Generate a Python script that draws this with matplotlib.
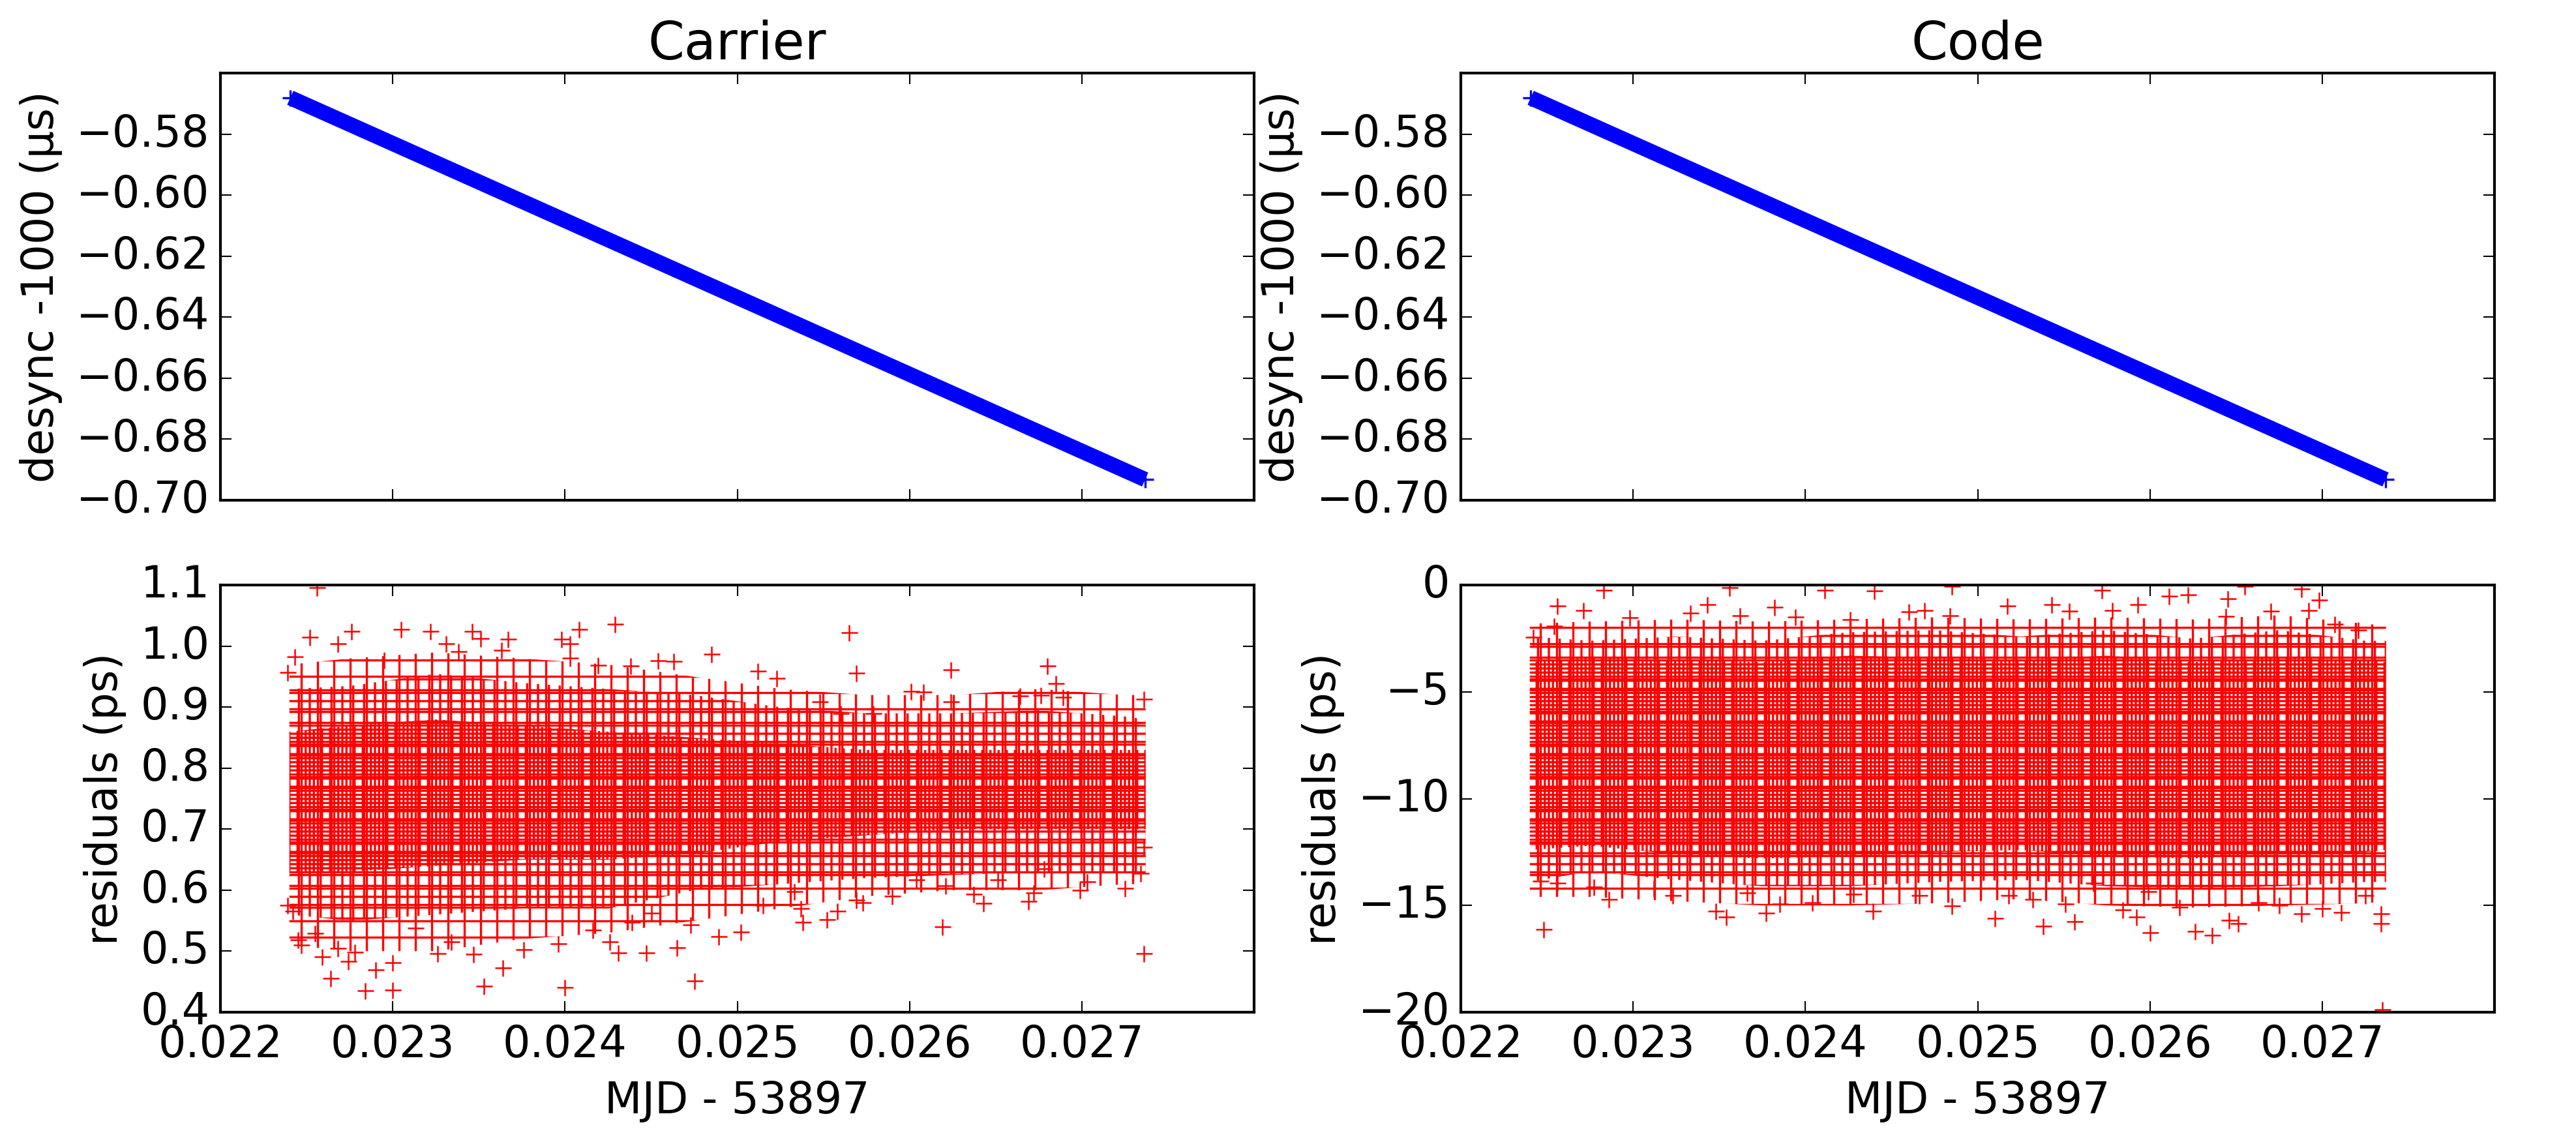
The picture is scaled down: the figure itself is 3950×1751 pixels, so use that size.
"""Carrier / Code desync and residuals, 2x2 panel figure (classic mpl look)."""
import matplotlib
matplotlib.use("Agg")
import matplotlib.pyplot as plt

plt.style.use("classic")
plt.rcParams["font.size"] = 16
plt.rcParams["hatch.linewidth"] = 0.8
plt.rcParams["hatch.color"] = "red"

# desync -1000 (us): start / end of the straight blue track (same in both panels)
desync_t = [0.022405, 0.027367]
desync_us = [-0.5681, -0.6933]

# residual clouds: envelopes read per time position
# (sparse fringe, main body, densest core)
env_t = [0.02240, 0.02275, 0.02325, 0.02375, 0.02425, 0.02475,
         0.02525, 0.02575, 0.02625, 0.02675, 0.02725, 0.02737]
car_sparse_hi = [0.97, 0.98, 0.99, 0.98, 0.97, 0.95, 0.93, 0.92, 0.92, 0.93, 0.92, 0.92]
car_sparse_lo = [0.51, 0.50, 0.50, 0.52, 0.53, 0.55, 0.57, 0.59, 0.60, 0.60, 0.61, 0.61]
car_hi = [0.93, 0.935, 0.955, 0.94, 0.93, 0.92, 0.90, 0.89, 0.89, 0.895, 0.885, 0.88]
car_lo = [0.56, 0.55, 0.56, 0.57, 0.57, 0.60, 0.61, 0.62, 0.625, 0.63, 0.63, 0.63]
car_core_hi = [0.86, 0.87, 0.88, 0.87, 0.86, 0.85, 0.84, 0.83, 0.83, 0.83, 0.83, 0.83]
car_core_lo = [0.63, 0.63, 0.64, 0.65, 0.65, 0.66, 0.68, 0.69, 0.70, 0.70, 0.70, 0.70]
code_sparse_hi = [-1.8, -1.7, -1.6, -1.7, -1.6, -1.5, -1.6, -1.5, -1.6, -1.4, -1.8, -1.9]
code_sparse_lo = [-14.6, -14.6, -14.8, -15.0, -15.0, -14.9, -14.7, -15.0, -15.1, -15.0, -14.9, -14.8]
code_hi = [-2.4, -2.6, -2.4, -2.6, -2.2, -2.1, -2.4, -2.1, -2.5, -2.1, -2.6, -2.6]
code_lo = [-13.9, -13.4, -13.8, -14.1, -14.1, -13.9, -13.8, -14.1, -14.2, -14.1, -13.9, -13.9]
code_core_hi = [-3.6, -3.4, -3.5, -3.6, -3.3, -3.4, -3.5, -3.3, -3.6, -3.4, -3.5, -3.6]
code_core_lo = [-12.4, -12.2, -12.6, -12.8, -12.7, -12.5, -12.4, -12.7, -12.8, -12.6, -12.5, -12.4]

# scattered residuals outside the dense body (carrier, ps)
car_out_t = [0.02256, 0.02252, 0.02276, 0.02268, 0.02305, 0.02322, 0.02346, 0.02351,
             0.02367, 0.02331, 0.02363, 0.02398, 0.02403, 0.02408, 0.02429, 0.02403,
             0.02565, 0.02569, 0.02624, 0.02680, 0.02485, 0.02454, 0.02463, 0.02512,
             0.02523, 0.02295, 0.02243, 0.02239, 0.02338, 0.02419, 0.02438, 0.02601,
             0.02608, 0.02664, 0.02676, 0.02689, 0.02736, 0.02685, 0.02624, 0.02548,
             0.02579, 0.02560,
             0.02736, 0.02619, 0.02475, 0.02400, 0.02353, 0.02300, 0.02284, 0.02264,
             0.02290, 0.02300, 0.02364, 0.02376, 0.02396, 0.02347, 0.02326, 0.02334,
             0.02431, 0.02447, 0.02465, 0.02489, 0.02502, 0.02473, 0.02416, 0.02426,
             0.02538, 0.02552, 0.02558, 0.02573, 0.02590, 0.02637, 0.02643, 0.02669,
             0.02672, 0.02699, 0.02725, 0.02651, 0.02537, 0.02245, 0.02247, 0.02259,
             0.02268, 0.02278, 0.02274, 0.02313, 0.02239, 0.02242, 0.02255, 0.02439,
             0.02450, 0.02533, 0.02515, 0.02569, 0.02604, 0.02621, 0.02703, 0.02678,
             0.02734, 0.02736]
car_out_ps = [1.096, 1.015, 1.025, 1.004, 1.028, 1.024, 1.025, 1.013,
              1.012, 1.004, 0.993, 1.012, 1.004, 1.028, 1.036, 0.981,
              1.022, 0.956, 0.961, 0.968, 0.987, 0.976, 0.975, 0.959,
              0.948, 0.978, 0.983, 0.957, 0.991, 0.969, 0.968, 0.926,
              0.925, 0.919, 0.920, 0.917, 0.913, 0.939, 0.909, 0.909,
              0.890, 0.890,
              0.496, 0.540, 0.451, 0.441, 0.443, 0.436, 0.435, 0.455,
              0.469, 0.481, 0.473, 0.503, 0.512, 0.495, 0.496, 0.515,
              0.497, 0.497, 0.506, 0.524, 0.531, 0.543, 0.535, 0.515,
              0.547, 0.552, 0.566, 0.580, 0.590, 0.593, 0.578, 0.582,
              0.596, 0.600, 0.603, 0.617, 0.570, 0.519, 0.510, 0.491,
              0.505, 0.498, 0.483, 0.538, 0.575, 0.566, 0.529, 0.547,
              0.563, 0.598, 0.575, 0.584, 0.617, 0.607, 0.614, 0.635,
              0.628, 0.670]

# scattered residuals outside the dense body (code, ps)
code_out_t = [0.02283, 0.02356, 0.02411, 0.02440, 0.02485, 0.02572, 0.02611, 0.02622,
              0.02655, 0.02688, 0.02698, 0.02256, 0.02271, 0.02343, 0.02382, 0.02362,
              0.02394, 0.02426, 0.02460, 0.02469, 0.02484, 0.02517, 0.02543, 0.02553,
              0.02593, 0.02645, 0.02644, 0.02670, 0.02692, 0.02707, 0.02721, 0.02298,
              0.02254, 0.02242, 0.02333, 0.02578,
              0.02248, 0.02735, 0.02734, 0.02734, 0.02636, 0.02626, 0.02600, 0.02646,
              0.02651, 0.02617, 0.02584, 0.02538, 0.02510, 0.02556, 0.02485, 0.02439,
              0.02377, 0.02354, 0.02348, 0.02404, 0.02385, 0.02286, 0.02256, 0.02246,
              0.02277, 0.02312, 0.02323, 0.02366, 0.02518, 0.02532, 0.02551, 0.02675,
              0.02688, 0.02711, 0.02700, 0.02725, 0.02663, 0.02599, 0.02567, 0.02466,
              0.02428, 0.02592]
code_out_ps = [-0.24, -0.11, -0.24, -0.27, -0.04, -0.24, -0.51, -0.44,
               -0.04, -0.17, -0.70, -0.97, -1.17, -0.90, -1.04, -1.41,
               -1.48, -1.61, -1.24, -1.17, -1.41, -0.97, -0.90, -1.21,
               -0.90, -0.64, -1.44, -1.21, -1.17, -1.83, -2.10, -1.50,
               -1.90, -2.43, -1.30, -1.17,
               -16.13, -19.89, -15.84, -15.40, -16.40, -16.22, -16.26, -15.69,
               -15.86, -15.07, -15.20, -15.97, -15.60, -15.77, -15.03, -15.27,
               -15.37, -15.53, -15.27, -14.87, -14.93, -14.73, -13.94, -13.87,
               -14.14, -14.20, -14.53, -14.40, -14.53, -14.73, -14.93, -15.00,
               -15.40, -15.33, -15.13, -14.53, -14.87, -14.34, -13.94, -14.53,
               -14.47, -15.53]

titles = ["Carrier", "Code"]
x_ticks = [0.022, 0.023, 0.024, 0.025, 0.026, 0.027]
desync_ticks = [-0.58, -0.60, -0.62, -0.64, -0.66, -0.68, -0.70]


def residual_cloud(ax, bands, out_t, out_v):
    # bands: (lo, hi, hatch) from sparse fringe to dense core
    for lo, hi, hatch in bands:
        ax.fill_between(env_t, lo, hi, facecolor="none", edgecolor="red",
                        hatch=hatch, linewidth=0)
    ax.plot(out_t, out_v, "r+", ms=6, mew=0.6)


fig, axes = plt.subplots(2, 2, figsize=(3950 / 300, 1751 / 300), dpi=300,
                         facecolor="white")
fig.subplots_adjust(left=0.0856, right=0.9684, top=0.9360, bottom=0.1137,
                    wspace=0.2, hspace=0.2)

for j in range(2):
    top, bot = axes[0, j], axes[1, j]
    top.plot(desync_t, desync_us, "b-", lw=5.6, solid_capstyle="butt")
    top.plot(desync_t, desync_us, "b+", ms=6, mew=0.8)
    top.set_xlim(0.022, 0.028)
    top.set_ylim(-0.70, -0.56)
    top.set_xticks(x_ticks)
    top.set_xticklabels([])
    top.set_yticks(desync_ticks)
    top.set_ylabel("desync -1000 (\u00b5s)")
    top.set_title(titles[j])

    bot.set_xlim(0.022, 0.028)
    bot.set_xticks(x_ticks)
    bot.set_xlabel("MJD - 53897")
    bot.set_ylabel("residuals (ps)")

residual_cloud(axes[1, 0],
               [(car_sparse_lo, car_sparse_hi, "++"),
                (car_lo, car_hi, "+++"),
                (car_core_lo, car_core_hi, "++++")],
               car_out_t, car_out_ps)
axes[1, 0].set_ylim(0.4, 1.1)
axes[1, 0].set_yticks([0.4, 0.5, 0.6, 0.7, 0.8, 0.9, 1.0, 1.1])

residual_cloud(axes[1, 1],
               [(code_sparse_lo, code_sparse_hi, "++"),
                (code_lo, code_hi, "+++"),
                (code_core_lo, code_core_hi, "++++")],
               code_out_t, code_out_ps)
axes[1, 1].set_ylim(-20, 0)
axes[1, 1].set_yticks([-20, -15, -10, -5, 0])

fig.savefig("out.png", dpi=300, facecolor="white")
